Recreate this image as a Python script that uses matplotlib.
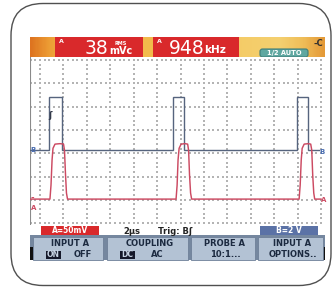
import matplotlib.pyplot as plt
import numpy as np
from matplotlib.colors import LinearSegmentedColormap
from matplotlib.patches import FancyBboxPatch, Rectangle

# trace B (blue), time in µs, level in V
b_time = [-0.85, 0.79, 0.79, 1.85, 1.85, 11.38, 11.38, 12.32, 12.32, 21.92, 21.92, 22.91, 22.91, 23.85]
b_volt = [0.0, 0.0, 4.6, 4.6, 0.0, 0.0, 4.6, 4.6, 0.0, 0.0, 4.6, 4.6, 0.0, 0.0]

# trace A (red), time in µs, level in mV
a_time = [-0.85, 0.85, 0.94, 1.03, 1.11, 1.28, 1.71, 2.01, 2.09, 2.18, 2.26, 2.35,
          11.62, 11.71, 11.79, 11.88, 12.05, 12.39, 12.61, 12.69, 12.77, 12.86, 12.95,
          22.13, 22.22, 22.31, 22.39, 22.56, 22.91, 23.12, 23.21, 23.29, 23.38, 23.46, 24.0]
a_mv = [0, 0, 30, 84, 109, 118, 119, 118, 105, 52, 13, 0,
        0, 30, 84, 109, 118, 119, 118, 105, 52, 13, 0,
        0, 30, 84, 109, 118, 119, 118, 105, 52, 13, 0, 0]

# scope settings
b_volt_per_div = 2.0
a_mv_per_div = 50.0
us_per_div = 2.0
b_ground_div = 3.13
a_ground_div = 1.03
trig_time = 0.79
trig_div = 4.6

rms_reading = "38"
freq_reading = "948"
status_left = "A=50mV"
status_right = "B=2 V"
timebase = "2µs"
trigger = "Trig: Bʃ"
key_top = ["INPUT A", "COUPLING", "PROBE A", "INPUT A"]
key_bottom = [("ON", "OFF"), ("DC", "AC"), ("", "10:1..."), ("", "OPTIONS..")]

BLUE = "#56647e"
RED = "#cc4a62"
FONT = ["DejaVu Sans"]

fig = plt.figure(figsize=(3.35, 2.87), dpi=100)
bg = fig.add_axes([0, 0, 1, 1])
bg.axis("off")

# outer frame
bg.add_patch(FancyBboxPatch((11, 3.5), 320, 282, boxstyle="round,pad=0,rounding_size=32",
                            ec="#505050", fc="white", lw=1.0))

# header band
header = LinearSegmentedColormap.from_list("hdr", [
    (0.0, "#de7420"), (0.06, "#ec9c34"), (0.12, "#f2b446"), (0.4, "#f3bb4c"),
    (0.55, "#f2b446"), (0.72, "#f5cc68"), (0.85, "#f4d070"), (0.93, "#efbd58"),
    (1.0, "#e49a38")])
bg.imshow(np.linspace(0, 1, 300).reshape(1, -1), cmap=header, aspect="auto",
          extent=(30, 325, 57, 37), zorder=1)
bg.set_xlim(0, 335)
bg.set_ylim(287, 0)

for x0, x1 in [(55, 143), (153, 239)]:
    bg.add_patch(Rectangle((x0, 37), x1 - x0, 20, fc="#d9292b", ec="none", zorder=2))
txt = dict(color="white", family=FONT, zorder=3)
bg.text(61, 41.5, "A", fontsize=4.5, weight="bold", ha="center", va="center", **txt)
bg.text(159, 41.5, "A", fontsize=4.5, weight="bold", ha="center", va="center", **txt)
bg.text(96.5, 48.5, rms_reading, fontsize=13.5, ha="center", va="center", **txt)
bg.text(120.5, 43.5, "RMS", fontsize=3.5, weight="bold", ha="center", va="center", **txt)
bg.text(120.5, 51, "mVc", fontsize=7, weight="bold", ha="center", va="center", **txt)
bg.text(186.5, 48.5, freq_reading, fontsize=13.5, ha="center", va="center", **txt)
bg.text(215.5, 50, "kHz", fontsize=7.5, weight="bold", ha="center", va="center", **txt)

bg.add_patch(FancyBboxPatch((260, 49), 48, 8, boxstyle="round,pad=0,rounding_size=2.5",
                            fc="#5fa7a0", ec="#3d7d7a", lw=0.8, zorder=2))
bg.text(284, 53, "1/2 AUTO", fontsize=4.8, weight="bold", ha="center", va="center", **txt)
bg.text(318, 43, "-C", fontsize=6, weight="bold", ha="center", va="center",
        color="#303030", family=FONT, zorder=3)

# status row
bg.add_patch(Rectangle((30, 225), 295, 11, fc="white", ec="none", zorder=1))
bg.add_patch(Rectangle((41, 226), 58, 9, fc="#d9292b", ec="none", zorder=2))
bg.add_patch(Rectangle((260, 226), 58, 9, fc="#5b72a6", ec="none", zorder=2))
bg.text(70, 230.5, status_left, fontsize=5.5, weight="bold", ha="center", va="center", **txt)
bg.text(289, 230.5, status_right, fontsize=5.5, weight="bold", ha="center", va="center", **txt)
bg.text(132, 231, timebase, fontsize=6, weight="bold", ha="center", va="center",
        color="#222222", family=FONT)
bg.text(158, 231, trigger, fontsize=6, weight="bold", ha="left", va="center",
        color="#222222", family=FONT)

# softkeys
bg.add_patch(Rectangle((30, 235), 295, 25, fc="#75879f", ec="none", zorder=1))
bg.add_patch(Rectangle((30, 247), 3, 13, fc="#111111", ec="none", zorder=2))
bg.add_patch(Rectangle((323, 247), 2, 13, fc="#111111", ec="none", zorder=2))
keys = [(33, 103), (107, 188), (191, 255), (258, 323)]
for (x0, x1), top, (sel, other) in zip(keys, key_top, key_bottom):
    bg.add_patch(Rectangle((x0, 236.5), x1 - x0, 23, fc="#b3c2d4", ec="#6e8098", lw=0.6, zorder=2))
    cx = (x0 + x1) / 2
    bg.text(cx + 2, 244, top, fontsize=6, weight="bold", ha="center", va="center",
            color="#1c2a40", family=FONT, zorder=3)
    if sel:
        bx = x0 + 13
        bg.add_patch(Rectangle((bx, 250.5), 15, 8, fc="#15182a", ec="none", zorder=3))
        bg.text(bx + 7.5, 254.5, sel, fontsize=5.5, weight="bold", ha="center", va="center",
                color="#c8d4e4", family=FONT, zorder=4)
        bg.text(bx + 37, 254.5, other, fontsize=6, weight="bold", ha="center", va="center",
                color="#1c2a40", family=FONT, zorder=3)
    else:
        bg.text(cx + 2, 254.5, other, fontsize=6, weight="bold", ha="center", va="center",
                color="#1c2a40", family=FONT, zorder=3)

# scope grid area
ax = fig.add_axes([30 / 335, (287 - 225) / 287, 295 / 335, 168 / 287])
ax.set_xlim(-0.854, 24.34)
ax.set_ylim(-0.082, 7.13)
ax.set_facecolor("white")
for s in ax.spines.values():
    s.set_visible(False)
ax.set_xticks([])
ax.set_yticks([])
ax.axvline(-0.854, color="#8a8a8a", lw=0.8)

n_hdiv = 12
n_vdiv = 7
xs_row = np.arange(0, n_hdiv * us_per_div + 0.01, us_per_div / 5)
xs_row = np.concatenate([xs_row, -xs_row[1:3]])
for k in range(n_vdiv + 1):
    ax.scatter(xs_row, np.full_like(xs_row, k), s=0.55, marker="s", color="#b4b4b4", lw=0)
ys_col = np.arange(0, n_vdiv + 0.01, 0.2)
for k in range(n_hdiv + 1):
    ax.scatter(np.full_like(ys_col, k * us_per_div), ys_col, s=0.55, marker="s",
               color="#b4b4b4", lw=0)

b_div = np.array(b_volt) / b_volt_per_div + b_ground_div
a_div = np.array(a_mv) / a_mv_per_div + a_ground_div
ax.plot(b_time, b_div, color=BLUE, lw=1.0, solid_joinstyle="miter")
ax.plot(a_time, a_div, color=RED, lw=1.05)

# trace markers
ax.text(-0.6, b_ground_div, "B", fontsize=5, weight="bold", color="#4a6db0",
        ha="center", va="center", family=FONT)
ax.text(24.05, b_ground_div - 0.07, "B", fontsize=5, weight="bold", color="#4a6db0",
        ha="center", va="center", family=FONT)
ax.text(-0.62, a_ground_div + 0.04, "-", fontsize=6, weight="bold", color=RED,
        ha="center", va="center", family=FONT)
ax.text(-0.55, a_ground_div - 0.4, "A", fontsize=5, weight="bold", color=RED,
        ha="center", va="center", family=FONT)
ax.text(24.2, a_ground_div - 0.05, "A", fontsize=5, weight="bold", color=RED,
        ha="center", va="center", family=FONT)
ax.text(trig_time + 0.08, trig_div, "ʃ", fontsize=6, weight="bold", color="#333a4a",
        ha="center", va="center", family=FONT)

fig.savefig("out.png", dpi=100)
